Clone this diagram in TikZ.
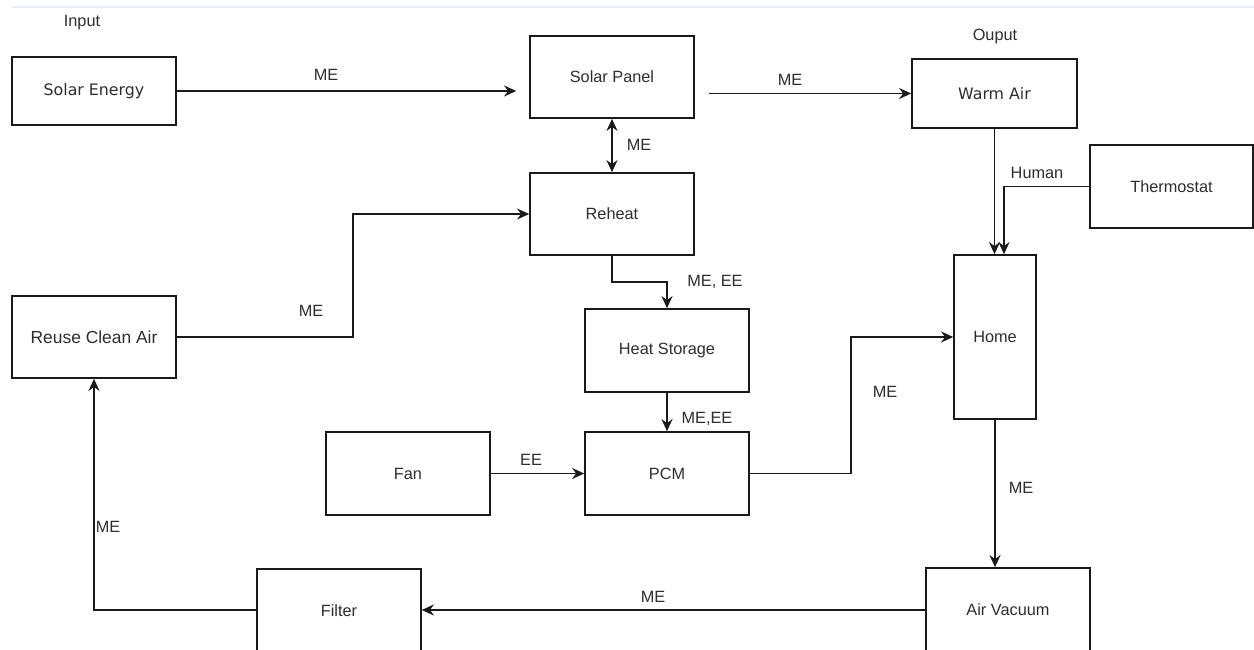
\documentclass[tikz,border=0pt]{standalone}
\usepackage{fontspec}
\setmainfont{Liberation Sans}
\newfontfamily\vfont{DejaVu Sans}
\usetikzlibrary{arrows.meta,calc}
\definecolor{ink}{HTML}{1A1A1A}
\definecolor{txt}{HTML}{2E2E2E}
\definecolor{topline}{HTML}{E8ECF8}
\begin{document}
\begin{tikzpicture}[x=1pt,y=-1pt,
  box/.style={draw=ink,line width=1.7pt,fill=white,inner sep=0pt,minimum width=164pt,minimum height=82pt,text=txt,font=\fontsize{16.3}{18}\selectfont},
  lbl/.style={text=txt,inner sep=0pt,font=\fontsize{16.3}{18}\selectfont},
  conn/.style={draw=ink,line width=1.7pt},
  arr/.style={conn,-{Stealth[length=12pt,width=11pt]}},
  arrb/.style={conn,{Stealth[length=12pt,width=11pt]}-{Stealth[length=12pt,width=11pt]}}]
\useasboundingbox (0,0) rectangle (1254,650);
\clip (0,0) rectangle (1254,650);
\fill[white] (0,0) rectangle (1254,650);
\draw[topline,line width=1.5pt] (12,7) -- (1254,7);

% boxes
\node[box,minimum height=68pt,font=\vfont\fontsize{15.8}{18}\selectfont] (se) at (94,91) {Solar Energy};
\node[box] (sp) at (612,77) {Solar Panel};
\node[box,minimum width=165pt,minimum height=69pt,font=\vfont\fontsize{15.8}{18}\selectfont] (wa) at (994.5,93.5) {Warm Air};
\node[box] (rh) at (612,214) {Reheat};
\node[box,minimum width=163pt,minimum height=83pt] (th) at (1171.5,186.5) {Thermostat};
\node[box,minimum width=82pt,minimum height=164pt] (home) at (995,337) {Home};
\node[box,font=\fontsize{17.4}{19}\selectfont] (rca) at (94,337) {Reuse Clean Air};
\node[box,minimum height=83pt] (hs) at (667,350.5) {Heat Storage};
\node[box,minimum height=83pt] (fan) at (408,473.5) {Fan};
\node[box,minimum height=83pt] (pcm) at (667,473.5) {PCM};
\node[box,minimum height=84pt] (filter) at (339,611) {Filter};
\node[box,minimum height=84pt] (av) at (1008,610) {Air Vacuum};

% free labels
\node[lbl] (inp) at (82,23) {Input};
\node[lbl] (outp) at (995,37) {Ouput};

% helper coordinates
\coordinate (k1) at (612,282);
\coordinate (k2) at (851,473.5);
\coordinate (k3) at (94,610);
\coordinate (k4) at (353,337);
\coordinate (k5) at (1004,186.5);

% connectors
\draw[arr,shorten >=13pt] (se.east) -- (se.east -| sp.west);
\node[lbl] (l1) at (326,75) {ME};

\draw[arr,shorten <=14pt] (sp.east |- wa.west) -- (wa.west);
\node[lbl] (l2) at (790,80) {ME};

\draw[arrb] (sp.south) -- (rh.north);
\node[lbl] (l3) at (639,145) {ME};

\draw[arr] (rh.south) -- (k1) -| (hs.north);
\node[lbl] (l4) at (715,282) {ME, EE};

\draw[arr] (hs.south) -- (pcm.north);
\node[lbl] (l5) at (707,419) {ME,EE};

\draw[arr] (fan.east) -- (pcm.west);
\node[lbl] (l6) at (531,460) {EE};

\draw[arr] (pcm.east) -- (k2) |- (home.west);
\node[lbl] (l7) at (885,392) {ME};

\draw[arr] (wa.south) -- (wa.south |- home.north);
\draw[arr] (th.west) -- (k5) -- (k5 |- home.north);
\node[lbl] (l8) at (1037,173) {Human};

\draw[arr] (home.south) -- (home.south |- av.north);
\node[lbl] (l9) at (1021,488) {ME};

\draw[arr] (av.west |- k3) -- (filter.east |- k3);
\node[lbl] (l10) at (653,597) {ME};

\draw[arr] (filter.west |- k3) -- (k3) -- (rca.south);
\node[lbl] (l11) at (108,527) {ME};

\draw[arr] (rca.east) -- (k4) |- (rh.west);
\node[lbl] (l12) at (311,311) {ME};
\end{tikzpicture}
\end{document}
